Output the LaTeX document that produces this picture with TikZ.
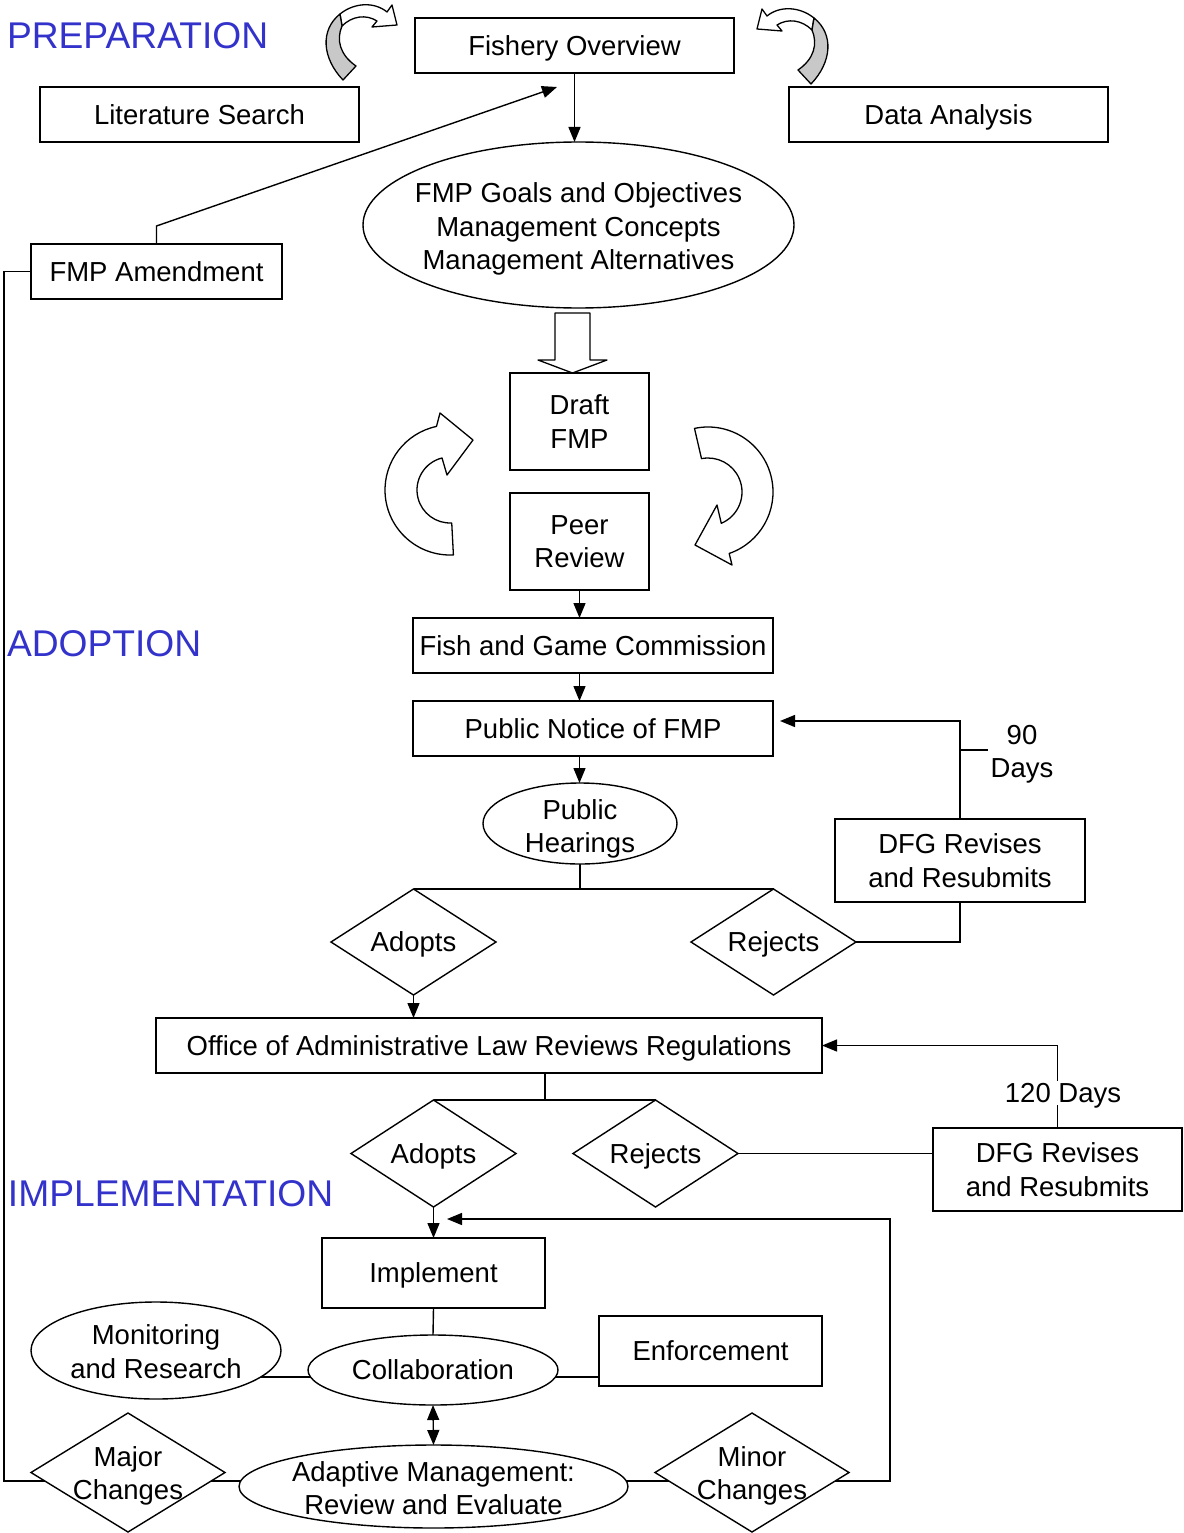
\documentclass[tikz,border=0pt]{standalone}
\usepackage{fontspec}
\setmainfont{Liberation Sans}
\usetikzlibrary{shapes.geometric,arrows.meta,calc,backgrounds}
\definecolor{headblue}{RGB}{51,51,204}
\definecolor{tailgray}{RGB}{200,200,200}
\begin{document}
\begin{tikzpicture}[x=1pt,y=-1pt, line width=1.4pt,
  every node/.style={font=\fontsize{27.5pt}{33.5pt}\selectfont, inner sep=0pt, outer sep=0pt},
  sl/.style={text height=19.7pt, text depth=0pt},
  box/.style={draw, rectangle, fill=white},
  oval/.style={draw, ellipse, fill=white},
  dia/.style={draw, diamond, fill=white},
  txt/.style={align=center},
  head/.style={font=\fontsize{37.2pt}{40pt}\selectfont, text=headblue, anchor=base west},
  arr/.style={-{Triangle[length=15pt,width=12pt]}},
  darr/.style={{Triangle[length=15pt,width=12pt]}-{Triangle[length=15pt,width=12pt]}},
  bent/.style={draw=black, line width=1.3pt, line join=round},
]
\useasboundingbox (0,0) rectangle (1183,1533);

% headings
\node[head] (hprep) at (7,49) {PREPARATION};
\node[head] (hadop) at (7,656) {ADOPTION};
\node[head] (himpl) at (8,1206) {IMPLEMENTATION};

% preparation
\node[box, sl, minimum width=319pt, minimum height=55pt] (fo) at (574.5,45.5) {Fishery Overview};
\node[box, sl, minimum width=319pt, minimum height=55pt] (lit) at (199.5,114.5) {Literature Search};
\node[box, sl, minimum width=319pt, minimum height=55pt] (data) at (948.5,114.5) {Data Analysis};
\node[oval, minimum width=431pt, minimum height=166pt] (goals) at (578.5,225) {};
\node[txt] (goalsT) at (578.5,229) {FMP Goals and Objectives\\Management Concepts\\Management Alternatives};
\node[box, sl, minimum width=251pt, minimum height=55pt] (amend) at (156.5,271.5) {FMP Amendment};

% adoption
\node[box, txt, minimum width=139pt, minimum height=97pt] (draft) at (579.5,421.5) {Draft\\FMP};
\node[box, txt, minimum width=139pt, minimum height=97pt] (peer) at (579.5,541.5) {Peer\\Review};
\node[box, sl, minimum width=360pt, minimum height=55pt] (fgc) at (593,645.5) {Fish and Game Commission};
\node[box, sl, minimum width=360pt, minimum height=55pt] (pn) at (593,728.5) {Public Notice of FMP};
\node[oval, minimum width=194pt, minimum height=81pt] (hear) at (580,823.5) {};
\node[txt] (hearT) at (580,829) {Public\\Hearings};
\node[box, txt, minimum width=250pt, minimum height=83pt] (dfg1) at (960,860.5) {DFG Revises\\and Resubmits};
\node[dia, minimum width=165pt, minimum height=106pt] (ad1) at (413.5,942) {};
\node[sl] (ad1T) at (ad1) {Adopts};
\node[dia, minimum width=165pt, minimum height=106pt] (rj1) at (773.5,942) {};
\node[sl] (rj1T) at (rj1) {Rejects};
\node[box, sl, minimum width=666pt, minimum height=55pt] (office) at (489,1045.5) {Office of Administrative Law Reviews Regulations};
\node[dia, minimum width=165pt, minimum height=107pt] (ad2) at (433.5,1153.5) {};
\node[sl] (ad2T) at (ad2) {Adopts};
\node[dia, minimum width=165pt, minimum height=107pt] (rj2) at (655.5,1153.5) {};
\node[sl] (rj2T) at (rj2) {Rejects};
\node[box, txt, minimum width=249pt, minimum height=83pt] (dfg2) at (1057.5,1169.5) {DFG Revises\\and Resubmits};

% implementation
\node[box, sl, minimum width=223pt, minimum height=70pt] (impl) at (433.5,1273) {Implement};
\node[oval, minimum width=250pt, minimum height=97pt] (mon) at (156,1350.5) {};
\node[txt] (monT) at (156,1351.5) {Monitoring\\and Research};
\node[oval, minimum width=250pt, minimum height=70pt] (collab) at (433,1370) {};
\node[sl] (collabT) at (collab) {Collaboration};
\node[box, sl, minimum width=223pt, minimum height=70pt] (enf) at (710.5,1351) {Enforcement};
\node[oval, minimum width=389pt, minimum height=83pt] (adapt) at (433.5,1486.5) {};
\node[txt] (adaptT) at (433.5,1488) {Adaptive Management:\\Review and Evaluate};
\node[dia, minimum width=194pt, minimum height=119pt] (major) at (128,1472.5) {};
\node[txt] (majorT) at (128,1476) {Major\\Changes};
\node[dia, minimum width=194pt, minimum height=119pt] (minor) at (752,1472.5) {};
\node[txt] (minorT) at (752,1476) {Minor\\Changes};

% labels
\node[txt] (d90) at (1022,754) {90\\Days};
\node[sl, fill=white, inner sep=2pt] (d120) at (1063,1093) {120 Days};

% helper coordinates
\coordinate (amtip) at (557,87);
\coordinate (loopx) at (4,0);
\coordinate (ybot) at (0,1481);
\coordinate (rx) at (890,1219);
\coordinate (impin) at (447,1219);
\coordinate (pnin) at (780,721);
\coordinate (tick90) at (960,750);
\coordinate (sx) at (545,0);
\coordinate (ymid) at (0,1377);

\begin{scope}[on background layer]
\begin{scope}[line width=1.4pt]
\draw[arr] (fo.south) -- (fo.south |- goals.north);
\draw[arr] (amend.north) -- ++(0,-18) -- (amtip);
\draw (amend.west) -- (amend.west -| loopx) -- (loopx |- ybot) -- (major.center |- ybot);
\draw (major.center |- ybot) -- (adapt.center |- ybot);
\draw (adapt.center |- ybot) -- (minor.center |- ybot);
\draw[arr] (minor.center |- ybot) -| (rx) -- (impin);
\draw[arr] (peer.south) -- (peer.south |- fgc.north);
\draw[arr] (peer.south |- fgc.south) -- (peer.south |- pn.north);
\draw[arr] (peer.south |- pn.south) -- (peer.south |- hear.north);
\draw (hear.south) -- (hear.south |- ad1.north);
\draw (ad1.north) -- (rj1.north);
\draw (rj1.east) -| (dfg1.south);
\draw[arr] (dfg1.north) |- (pnin);
\draw (tick90) -- ++(28,0);
\draw[arr] (ad1.south) -- (ad1.south |- office.north);
\draw (sx |- office.south) -- (sx |- ad2.north);
\draw (ad2.north) -- (rj2.north);
\draw (rj2.east) -- (rj2.east -| dfg2.west);
\draw[arr] (dfg2.north) |- (office.east);
\draw[arr] (ad2.south) -- (ad2.south |- impl.north);
\draw (impl.south) -- (collab.north);
\draw (mon.center |- ymid) -- (collab.center |- ymid);
\draw (collab.center |- ymid) -- (enf.center |- ymid);
\draw[darr] (collab.south) -- (adapt.north);
\end{scope}
\end{scope}

% block arrow goals -> draft
\filldraw[bent, fill=white] (555,313) -- (590,313) -- (590,360) -- (607,360) -- (572.5,373) -- (538,360) -- (555,360) -- cycle;

% curved arrows at top
\begin{scope}
\filldraw[bent, fill=white] (340,14) .. controls (355,2) and (375,2) .. (387,12) -- (392,5) -- (397,25) -- (372,27) -- (377,21) .. controls (366,14) and (352,16) .. (342,26) -- cycle;
\filldraw[bent, fill=tailgray] (343,80) .. controls (322,58) and (320,30) .. (340,14) -- (342,26) .. controls (336,40) and (340,55) .. (356,66) -- cycle;
\end{scope}
\begin{scope}[xshift=1154pt, yshift=-4pt, xscale=-1]
\filldraw[bent, fill=white] (340,14) .. controls (355,2) and (375,2) .. (387,12) -- (392,5) -- (397,25) -- (372,27) -- (377,21) .. controls (366,14) and (352,16) .. (342,26) -- cycle;
\filldraw[bent, fill=tailgray] (343,80) .. controls (322,58) and (320,30) .. (340,14) -- (342,26) .. controls (336,40) and (340,55) .. (356,66) -- cycle;
\end{scope}

% circular arrows around draft / peer review
\coordinate (cl) at (450,490);
\coordinate (cr) at (708,492);
\filldraw[bent, fill=white] ($(cl)+(87:65)$) arc[start angle=87, end angle=258, radius=65] -- (440,413) -- (473,440) -- (447,475) -- ($(cl)+(256:33)$) arc[start angle=256, end angle=87, radius=33] -- cycle;
\filldraw[bent, fill=white] ($(cr)+(-102:65)$) arc[start angle=-102, end angle=71, radius=65] -- (732,565) -- (695,545) -- (717,505) -- ($(cr)+(67:34)$) arc[start angle=67, end angle=-101, radius=34] -- cycle;
\end{tikzpicture}
\end{document}
